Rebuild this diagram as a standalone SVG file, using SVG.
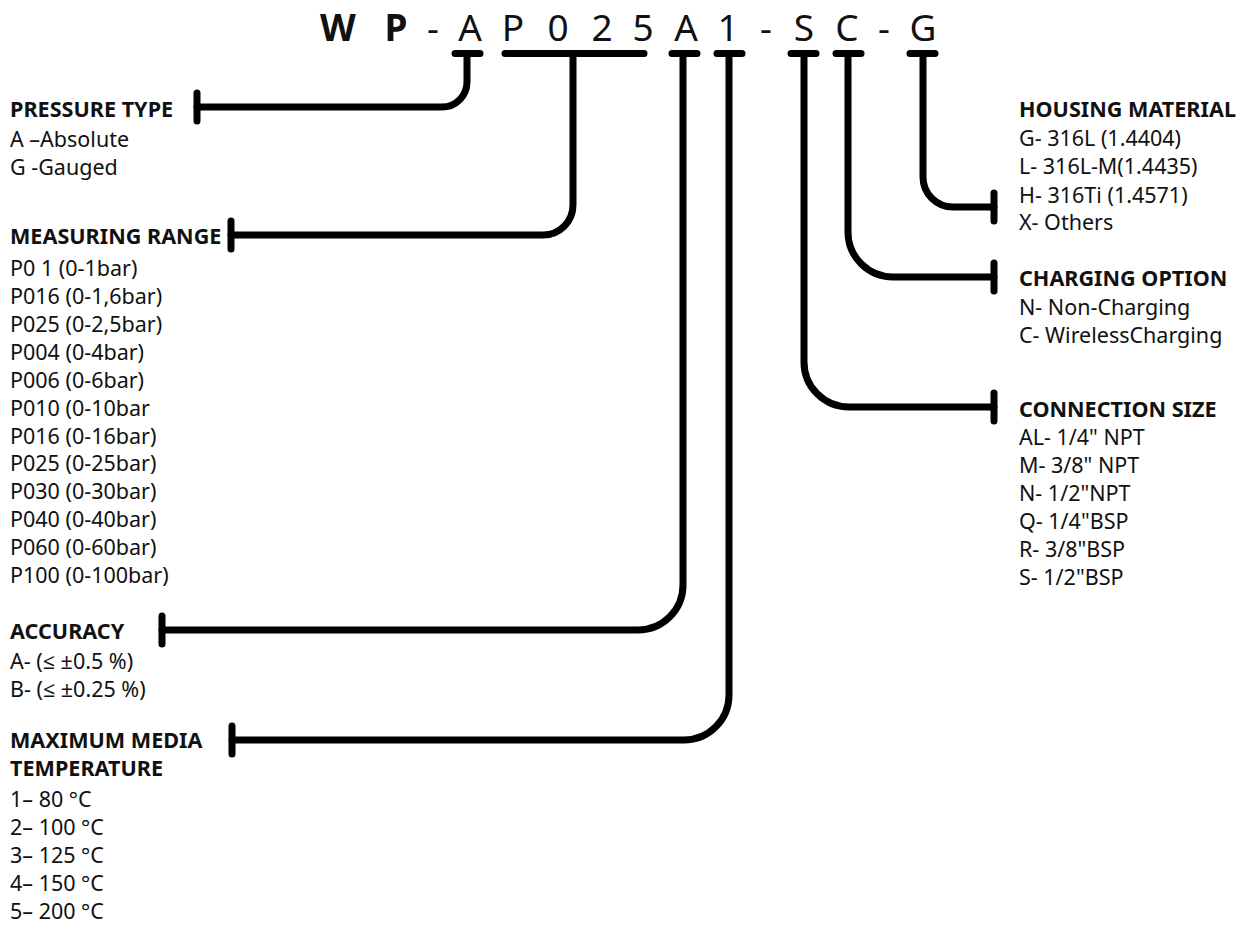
<svg xmlns="http://www.w3.org/2000/svg" width="1247" height="925" viewBox="0 0 1247 925">
<style>
.t{font-family:"Noto Sans","Open Sans","DejaVu Sans",sans-serif;fill:#111;}
.ti{font-size:37px;text-anchor:middle;}
.b{font-weight:bold;}
.h{font-size:21.6px;font-weight:bold;}
.r{font-size:21.5px;}
.ln{fill:none;stroke:#000;stroke-width:7;stroke-linecap:round;stroke-linejoin:round;}
</style>
<rect width="1247" height="925" fill="#fff"/>
<g id="title" class="t ti">
<text x="338" y="41" class="b">W</text>
<text x="396" y="41" class="b">P</text>
<text x="433" y="41">-</text>
<text x="470" y="41">A</text>
<text x="513" y="41">P</text>
<text x="558" y="41">0</text>
<text x="602" y="41">2</text>
<text x="643" y="41">5</text>
<text x="686" y="41">A</text>
<text x="728" y="41">1</text>
<text x="766" y="41">-</text>
<text x="804" y="41">S</text>
<text x="847" y="41">C</text>
<text x="884" y="41">-</text>
<text x="923" y="41">G</text>
</g>
<g id="connectors" class="ln">
<path d="M455,53.5 H480"/>
<path d="M505,53.5 H644"/>
<path d="M672,53.5 H697"/>
<path d="M717,53.5 H742"/>
<path d="M791,53.5 H816"/>
<path d="M836,53.5 H861"/>
<path d="M910,53.5 H935"/>
<path d="M467,54 V82 A25,25 0 0 1 442,107 H197"/>
<path d="M197,93 V121"/>
<path d="M573,54 V205 A30,30 0 0 1 543,235 H231"/>
<path d="M231,221 V249"/>
<path d="M683,54 V585 A45,45 0 0 1 638,630 H162"/>
<path d="M162,616 V644"/>
<path d="M729,54 V695 A45,45 0 0 1 684,740 H232"/>
<path d="M232,726 V754"/>
<path d="M804,54 V362 A45,45 0 0 0 849,407 H994"/>
<path d="M994,393 V421"/>
<path d="M848,54 V232 A45,45 0 0 0 893,277 H994"/>
<path d="M994,263 V291"/>
<path d="M923,54 V177 A30,30 0 0 0 953,207 H994"/>
<path d="M994,193 V221"/>
</g>
<g id="pressure-type" class="t">
<text x="10" y="117" class="h">PRESSURE TYPE</text>
<text x="10" y="147" class="r">A –Absolute</text>
<text x="10" y="175" class="r">G -Gauged</text>
</g>
<g id="measuring-range" class="t r">
<text x="10" y="244" class="h">MEASURING RANGE</text>
<text x="10" y="276">P0 1 (0-1bar)</text>
<text x="10" y="304">P016 (0-1,6bar)</text>
<text x="10" y="332">P025 (0-2,5bar)</text>
<text x="10" y="360">P004 (0-4bar)</text>
<text x="10" y="388">P006 (0-6bar)</text>
<text x="10" y="416">P010 (0-10bar</text>
<text x="10" y="444">P016 (0-16bar)</text>
<text x="10" y="471">P025 (0-25bar)</text>
<text x="10" y="499">P030 (0-30bar)</text>
<text x="10" y="527">P040 (0-40bar)</text>
<text x="10" y="555">P060 (0-60bar)</text>
<text x="10" y="583">P100 (0-100bar)</text>
</g>
<g id="accuracy" class="t r">
<text x="10" y="639" class="h">ACCURACY</text>
<text x="10" y="669">A- (≤ ±0.5 %)</text>
<text x="10" y="697">B- (≤ ±0.25 %)</text>
</g>
<g id="max-temp" class="t r">
<text x="10" y="748" class="h">MAXIMUM MEDIA</text>
<text x="10" y="776" class="h">TEMPERATURE</text>
<text x="10" y="807">1– 80 °C</text>
<text x="10" y="835">2– 100 °C</text>
<text x="10" y="863">3– 125 °C</text>
<text x="10" y="891">4– 150 °C</text>
<text x="10" y="919">5– 200 °C</text>
</g>
<g id="housing-material" class="t r">
<text x="1019" y="117" class="h">HOUSING MATERIAL</text>
<text x="1019" y="146">G- 316L (1.4404)</text>
<text x="1019" y="174">L- 316L-M(1.4435)</text>
<text x="1019" y="203">H- 316Ti (1.4571)</text>
<text x="1019" y="230">X- Others</text>
</g>
<g id="charging-option" class="t r">
<text x="1019" y="286" class="h">CHARGING OPTION</text>
<text x="1019" y="315">N- Non-Charging</text>
<text x="1019" y="343">C- WirelessCharging</text>
</g>
<g id="connection-size" class="t r">
<text x="1019" y="417" class="h">CONNECTION SIZE</text>
<text x="1019" y="445">AL- 1/4" NPT</text>
<text x="1019" y="473">M- 3/8" NPT</text>
<text x="1019" y="501">N- 1/2"NPT</text>
<text x="1019" y="529">Q- 1/4"BSP</text>
<text x="1019" y="557">R- 3/8"BSP</text>
<text x="1019" y="585">S- 1/2"BSP</text>
</g>
</svg>
